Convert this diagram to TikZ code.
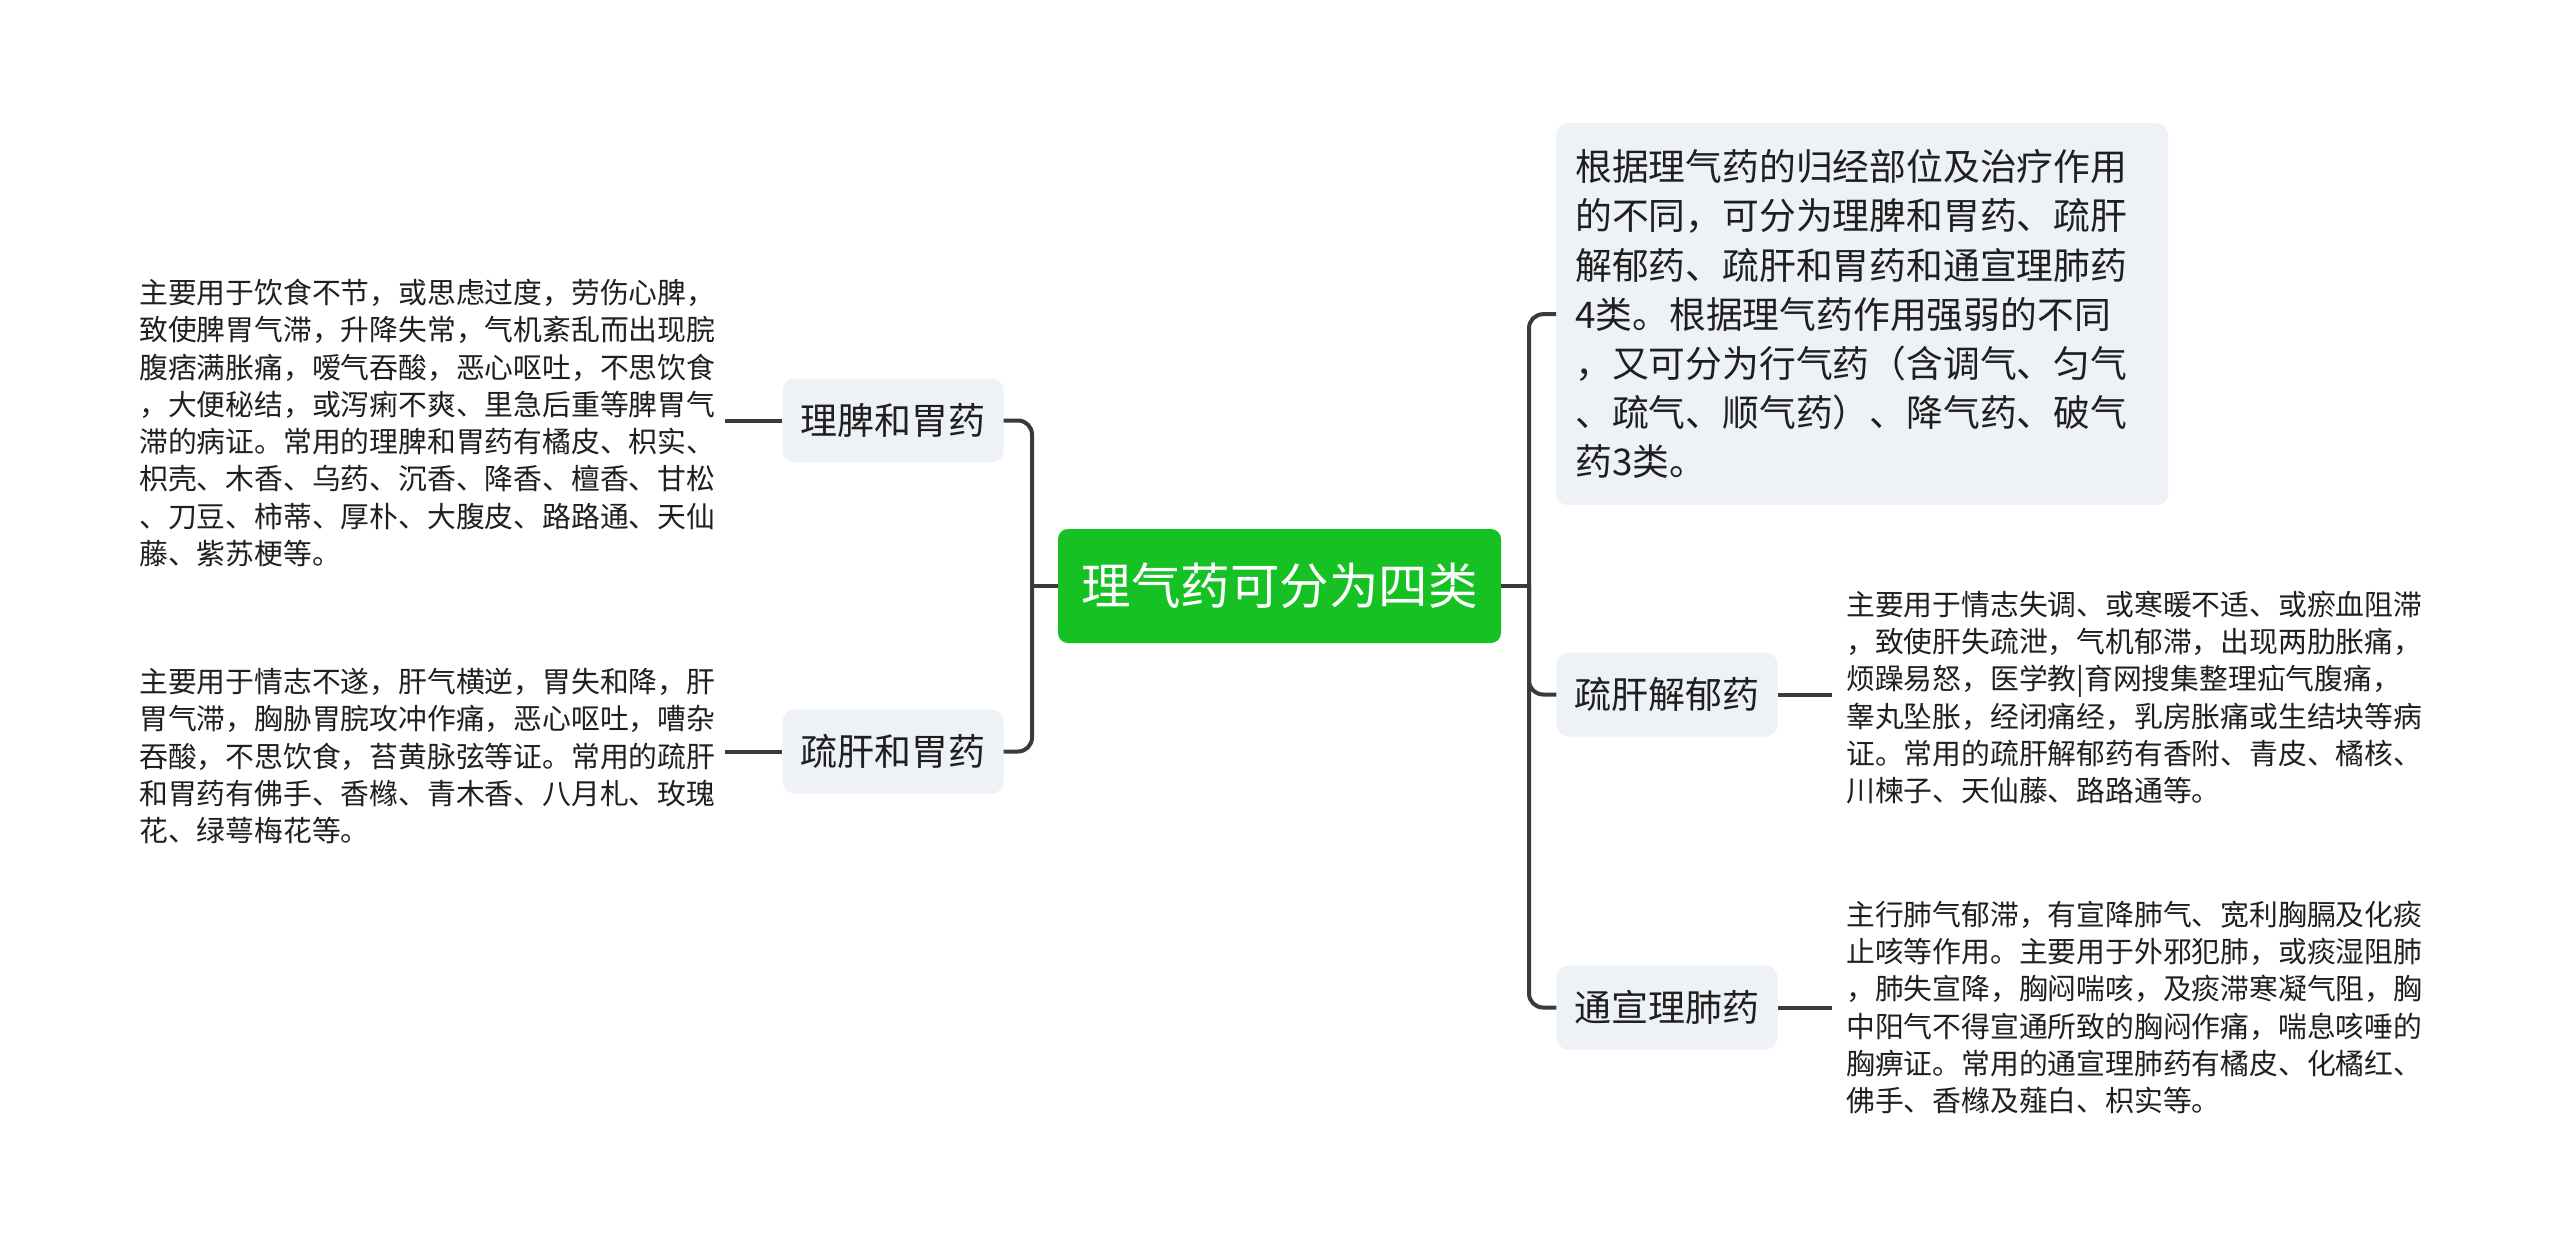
\documentclass[tikz,border=0pt]{standalone}
\usepackage{fontspec}
\setmainfont{Noto Sans CJK SC}
\definecolor{rootgreen}{HTML}{16C124}
\definecolor{boxgray}{HTML}{EEF1F5}
\definecolor{linegray}{HTML}{3A3A3A}
\definecolor{txt}{HTML}{1F1F1F}
\tikzset{
  conn/.style={draw=linegray, line width=4pt},
  rootbox/.style={fill=rootgreen, rounded corners=10pt, text=white, minimum width=443pt, minimum height=114pt, inner sep=0pt, font=\fontsize{49.5}{60}\selectfont},
  topicbox/.style={fill=boxgray, rounded corners=12pt, text=txt, minimum width=221pt, minimum height=84pt, inner sep=0pt, font=\fontsize{37}{46}\selectfont},
  infobox/.style={fill=boxgray, rounded corners=12pt, text=txt, align=left, text width=574pt, minimum width=612pt, minimum height=382pt, inner xsep=19pt, inner ysep=0pt, font=\fontsize{36.8}{49.2}\selectfont},
  note/.style={text=txt, align=left, inner sep=0pt, font=\fontsize{28.8}{37.3}\selectfont}
}
\begin{document}
\begin{tikzpicture}[x=1pt,y=-1pt]
\useasboundingbox[fill=white] (0,0) rectangle (2560,1255);

\coordinate (bl) at (1032,0);
\coordinate (br) at (1529,0);

\node[rootbox] (c) at (1279.5,586) {理气药可分为四类};

\node[topicbox] (n1) at (893,420.5) {理脾和胃药};
\node[topicbox] (n2) at (893,751.5) {疏肝和胃药};

\node[infobox, anchor=north west] (r1) at (1556,123) {根据理气药的归经部位及治疗作用\\的不同，可分为理脾和胃药、疏肝\\解郁药、疏肝和胃药和通宣理肺药\\4类。根据理气药作用强弱的不同\\，又可分为行气药（含调气、匀气\\、疏气、顺气药）、降气药、破气\\药3类。};
\node[topicbox] (r2) at (1667,694.5) {疏肝解郁药};
\node[topicbox] (r3) at (1667,1007.5) {通宣理肺药};

\node[note, anchor=west] (t1) at (139,423) {主要用于饮食不节，或思虑过度，劳伤心脾，\\致使脾胃气滞，升降失常，气机紊乱而出现脘\\腹痞满胀痛，嗳气吞酸，恶心呕吐，不思饮食\\，大便秘结，或泻痢不爽、里急后重等脾胃气\\滞的病证。常用的理脾和胃药有橘皮、枳实、\\枳壳、木香、乌药、沉香、降香、檀香、甘松\\、刀豆、柿蒂、厚朴、大腹皮、路路通、天仙\\藤、紫苏梗等。};
\node[note, anchor=west] (t2) at (139,756) {主要用于情志不遂，肝气横逆，胃失和降，肝\\胃气滞，胸胁胃脘攻冲作痛，恶心呕吐，嘈杂\\吞酸，不思饮食，苔黄脉弦等证。常用的疏肝\\和胃药有佛手、香橼、青木香、八月札、玫瑰\\花、绿萼梅花等。};
\node[note, anchor=west] (t3) at (1846,697.5) {主要用于情志失调、或寒暖不适、或瘀血阻滞\\，致使肝失疏泄，气机郁滞，出现两肋胀痛，\\烦躁易怒，医学教|育网搜集整理疝气腹痛，\\睾丸坠胀，经闭痛经，乳房胀痛或生结块等病\\证。常用的疏肝解郁药有香附、青皮、橘核、\\川楝子、天仙藤、路路通等。};
\node[note, anchor=west] (t4) at (1846,1007.5) {主行肺气郁滞，有宣降肺气、宽利胸膈及化痰\\止咳等作用。主要用于外邪犯肺，或痰湿阻肺\\，肺失宣降，胸闷喘咳，及痰滞寒凝气阻，胸\\中阳气不得宣通所致的胸闷作痛，喘息咳唾的\\胸痹证。常用的通宣理肺药有橘皮、化橘红、\\佛手、香橼及薤白、枳实等。};

% root to left topics
\draw[conn] (c.west) -- (c.west -| bl);
\draw[conn, rounded corners=14pt] (c.west -| bl) |- (n1.east);
\draw[conn, rounded corners=14pt] (c.west -| bl) |- (n2.east);
% root to right topics
\draw[conn] (c.east) -- (c.east -| br);
\draw[conn, rounded corners=14pt] (c.east -| br) |- (r1.west);
\draw[conn, rounded corners=14pt] (c.east -| br) |- (r2.west);
\draw[conn, rounded corners=14pt] (c.east -| br) |- (r3.west);
% topics to notes
\draw[conn] (n1.west) -- ([xshift=10pt]t1.east |- n1.west);
\draw[conn] (n2.west) -- ([xshift=10pt]t2.east |- n2.west);
\draw[conn] (r2.east) -- ([xshift=-14pt]t3.west |- r2.east);
\draw[conn] (r3.east) -- ([xshift=-14pt]t4.west |- r3.east);
\end{tikzpicture}
\end{document}
